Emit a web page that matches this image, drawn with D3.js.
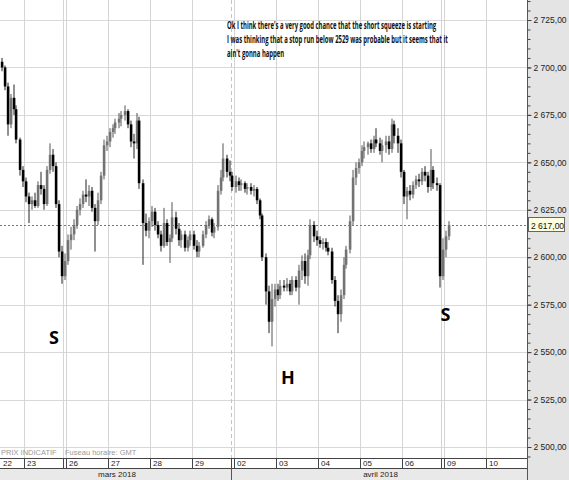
<!DOCTYPE html>
<html>
<head>
<meta charset="utf-8">
<script src="https://cdn.jsdelivr.net/npm/d3@7"></script>
<style>
	body { margin: 0; background: #fff; }
	svg { display: block; font-family: "Liberation Sans", Arial, sans-serif; }
</style>
</head>
<body>
<svg id="chart" width="569" height="480"></svg>
<script>
// trading days shown on the time axis (bars are 14 per day)
const days = ["22", "23", "26", "27", "28", "29", "02", "03", "04", "05", "06", "09", "10"];
const months = [
	{ label: "mars 2018", from: 0, to: 6 },
	{ label: "avril 2018", from: 6, to: 13 }
];
// day index after which a weekend / holiday gap sits
const gapsAfter = [1, 5, 10];
const barsPerDay = 14;
const firstSlot = 6;

// [open, high, low, close], one per bar, starting at firstSlot
const candles = [
	[2703, 2705, 2698, 2700], [2700, 2701, 2688, 2690], [2690, 2692, 2664, 2670], [2670, 2686, 2668, 2684],
	[2684, 2691, 2675, 2678], [2678, 2680, 2660, 2662], [2662, 2663, 2643, 2646], [2646, 2648, 2637, 2640],
	// 23
	[2640, 2642, 2629, 2632], [2632, 2634, 2618, 2628], [2628, 2632, 2625, 2630], [2630, 2634, 2626, 2627],
	[2627, 2640, 2626, 2638], [2638, 2645, 2633, 2636], [2636, 2638, 2625, 2628], [2628, 2648, 2627, 2646],
	[2646, 2660, 2644, 2654], [2654, 2657, 2645, 2648], [2648, 2650, 2626, 2628], [2628, 2630, 2600, 2603],
	[2603, 2606, 2586, 2590], [2590, 2602, 2588, 2598],
	// 26
	[2598, 2612, 2596, 2609], [2609, 2616, 2604, 2612], [2612, 2620, 2609, 2617], [2617, 2627, 2615, 2625],
	[2625, 2631, 2622, 2628], [2628, 2635, 2626, 2633], [2633, 2641, 2629, 2632], [2632, 2638, 2627, 2635],
	[2635, 2637, 2624, 2626], [2626, 2628, 2603, 2619], [2619, 2634, 2617, 2630], [2630, 2645, 2628, 2643],
	[2643, 2662, 2641, 2659], [2659, 2664, 2656, 2661],
	// 27
	[2661, 2668, 2658, 2666], [2666, 2670, 2663, 2668], [2668, 2673, 2665, 2671], [2671, 2676, 2668, 2673],
	[2673, 2677, 2669, 2675], [2675, 2680, 2672, 2677], [2677, 2678, 2668, 2670], [2670, 2672, 2658, 2661],
	[2661, 2665, 2652, 2660], [2660, 2676, 2657, 2672], [2672, 2674, 2636, 2639], [2639, 2641, 2596, 2618],
	[2618, 2623, 2611, 2614], [2614, 2621, 2610, 2619],
	// 28
	[2619, 2627, 2616, 2624], [2624, 2626, 2614, 2617], [2617, 2619, 2610, 2612], [2612, 2614, 2603, 2606],
	[2606, 2626, 2605, 2618], [2618, 2620, 2606, 2608], [2608, 2612, 2597, 2610], [2610, 2629, 2608, 2621],
	[2621, 2624, 2612, 2615], [2615, 2618, 2606, 2609], [2609, 2614, 2605, 2612], [2612, 2614, 2603, 2605],
	[2605, 2611, 2603, 2609], [2609, 2614, 2606, 2612],
	// 29
	[2612, 2614, 2604, 2606], [2606, 2609, 2600, 2603], [2603, 2608, 2600, 2606], [2606, 2614, 2605, 2612],
	[2612, 2619, 2610, 2617], [2617, 2622, 2615, 2620], [2620, 2621, 2611, 2613], [2613, 2618, 2610, 2616],
	[2616, 2638, 2614, 2635], [2635, 2646, 2633, 2642], [2642, 2660, 2640, 2652], [2652, 2654, 2642, 2645],
	[2645, 2651, 2640, 2643], [2643, 2645, 2635, 2637],
	// 02
	[2637, 2643, 2634, 2640], [2640, 2642, 2635, 2638], [2638, 2641, 2635, 2639], [2639, 2640, 2634, 2636],
	[2636, 2639, 2633, 2637], [2637, 2639, 2633, 2635], [2635, 2638, 2632, 2636], [2636, 2637, 2628, 2630],
	[2630, 2631, 2620, 2622], [2622, 2623, 2598, 2600], [2600, 2602, 2575, 2582], [2582, 2585, 2560, 2566],
	[2566, 2586, 2553, 2578], [2578, 2586, 2574, 2583],
	// 03
	[2583, 2586, 2577, 2580], [2580, 2588, 2578, 2585], [2585, 2588, 2582, 2584], [2584, 2589, 2582, 2586],
	[2586, 2588, 2580, 2582], [2582, 2590, 2580, 2588], [2588, 2590, 2582, 2584], [2584, 2596, 2575, 2593],
	[2593, 2601, 2588, 2598], [2598, 2602, 2586, 2590], [2590, 2604, 2585, 2601], [2601, 2620, 2599, 2617],
	[2617, 2619, 2608, 2611], [2611, 2614, 2606, 2609],
	// 04
	[2609, 2611, 2605, 2607], [2607, 2610, 2604, 2608], [2608, 2610, 2603, 2605], [2605, 2608, 2601, 2603],
	[2603, 2605, 2586, 2588], [2588, 2590, 2574, 2577], [2577, 2580, 2560, 2570], [2570, 2583, 2566, 2580],
	[2580, 2600, 2578, 2596], [2596, 2606, 2594, 2604], [2604, 2622, 2602, 2619], [2619, 2646, 2617, 2642],
	[2642, 2650, 2638, 2647], [2647, 2652, 2644, 2650],
	// 05
	[2650, 2659, 2648, 2656], [2656, 2661, 2652, 2658], [2658, 2661, 2654, 2660], [2660, 2662, 2655, 2657],
	[2657, 2664, 2655, 2662], [2662, 2668, 2658, 2660], [2660, 2663, 2654, 2656], [2656, 2662, 2650, 2659],
	[2659, 2664, 2655, 2661], [2661, 2664, 2654, 2657], [2657, 2673, 2655, 2670], [2670, 2672, 2660, 2664],
	[2664, 2668, 2655, 2660], [2660, 2662, 2642, 2645],
	// 06
	[2645, 2646, 2628, 2632], [2632, 2637, 2620, 2635], [2635, 2638, 2630, 2633], [2633, 2640, 2631, 2638],
	[2638, 2643, 2636, 2641], [2641, 2644, 2637, 2640], [2640, 2647, 2638, 2645], [2645, 2648, 2640, 2643],
	[2643, 2645, 2634, 2637], [2637, 2657, 2635, 2646], [2646, 2648, 2636, 2639], [2639, 2642, 2635, 2638],
	[2638, 2639, 2584, 2590], [2590, 2610, 2588, 2604],
	// 09
	[2604, 2614, 2600, 2611], [2611, 2619, 2609, 2617]
];

const lastPrice = 2617;
const priceTicks = d3.range(2500, 2726, 25);
const minorTicks = d3.range(2495, 2746, 5);

const noteLines = [
	"Ok I think there's a very good chance that the short squeeze is starting",
	"I was thinking that a stop run below 2529 was probable but it seems that it",
	"ain't gonna happen"
];
// head & shoulders marks: [label, slot, price]
const patternMarks = [["S", 24, 2558], ["H", 102, 2537], ["S", 154.5, 2570]];

const W = 569, H = 480;
const plotRight = 527, plotBottom = 458, dayRowBottom = 468;

const svg = d3.select("#chart");

const x = d3.scaleLinear()
	.domain([0, days.length * barsPerDay])
	.range([-18, 528]);
const y = d3.scaleLinear()
	.domain([2500, 2725])
	.range([447, 20]);

const fr = d3.formatLocale({ decimal: ",", thousands: " ", grouping: [3], currency: ["", ""] });
const fmt = fr.format(",.2f");

svg.append("defs").append("clipPath").attr("id", "plot-clip")
	.append("rect").attr("x", 0).attr("y", 0).attr("width", plotRight).attr("height", plotBottom);

const plot = svg.append("g").attr("clip-path", "url(#plot-clip)");

// horizontal grid
plot.append("g").selectAll("line").data(priceTicks).join("line")
	.attr("x1", 0).attr("x2", plotRight)
	.attr("y1", d => Math.round(y(d)) + 0.5).attr("y2", d => Math.round(y(d)) + 0.5)
	.attr("stroke", "#d8d8d8");

// vertical grid at day boundaries
const boundaries = d3.range(1, days.length);
boundaries.forEach(i => {
	const bx = Math.round(x(i * barsPerDay)) + 0.5;
	const isGap = gapsAfter.includes(i - 1);
	const isMonth = months.some(m => m.from === i);
	if (isGap) {
		plot.append("line")
			.attr("x1", bx - 3).attr("x2", bx - 3).attr("y1", 0).attr("y2", plotBottom)
			.attr("stroke", isMonth ? "#c4c4c4" : "#d4d4d4")
			.attr("stroke-dasharray", isMonth ? "4,3" : null);
	}
	plot.append("line")
		.attr("x1", bx).attr("x2", bx).attr("y1", 0).attr("y2", plotBottom)
		.attr("stroke", "#d4d4d4");
});

// last price line
plot.append("line")
	.attr("x1", 0).attr("x2", plotRight)
	.attr("y1", Math.round(y(lastPrice)) + 0.5).attr("y2", Math.round(y(lastPrice)) + 0.5)
	.attr("stroke", "#e8473f").attr("stroke-dasharray", "2,2");

// candles
const bars = plot.append("g").selectAll("g").data(candles).join("g")
	.attr("transform", (d, i) => `translate(${Math.round(x(firstSlot + i + 0.5))},0)`);

bars.append("line")
	.attr("x1", 0).attr("x2", 0)
	.attr("y1", d => y(d[1])).attr("y2", d => y(d[2]))
	.attr("stroke", d => d[3] >= d[0] ? "#555" : "#222")
	.attr("stroke-width", 1);

bars.append("rect")
	.attr("x", -1.2)
	.attr("width", 2.6)
	.attr("y", d => y(Math.max(d[0], d[3])))
	.attr("height", d => Math.max(1, Math.abs(y(d[0]) - y(d[3]))))
	.attr("fill", d => d[3] >= d[0] ? "#737373" : "#000");

// footer of the plot
svg.append("text")
	.attr("x", 1).attr("y", 455)
	.attr("font-size", 7.5).attr("fill", "#999")
	.attr("xml:space", "preserve")
	.text("PRIX INDICATIF    Fuseau horaire: GMT");

// annotation: condensed horizontally so the second line spans ~221px like the screenshot
const note = svg.append("text")
	.attr("font-family", "'Open Sans', 'Noto Sans', sans-serif")
	.attr("font-weight", 700)
	.attr("font-size", 11)
	.attr("fill", "#111");
note.selectAll("tspan").data(noteLines).join("tspan")
	.attr("x", 0)
	.attr("y", (d, i) => 29 + i * 14)
	.text(d => d);
const widest = note.selectAll("tspan").nodes()[1].getComputedTextLength();
note.attr("transform", `translate(227,0) scale(${221 / widest},1)`);

svg.append("g").selectAll("text").data(patternMarks).join("text")
	.attr("x", d => x(d[1]))
	.attr("y", d => y(d[2]) + 7)
	.attr("text-anchor", "middle")
	.attr("font-family", "'Open Sans', 'Noto Sans', sans-serif")
	.attr("font-weight", 700)
	.attr("font-size", 18)
	.attr("fill", "#000")
	.text(d => d[0]);

// right price panel
svg.append("rect")
	.attr("x", plotRight).attr("y", 0).attr("width", W - plotRight).attr("height", H)
	.attr("fill", "#e4e4e4");

const axisG = svg.append("g").attr("transform", `translate(${plotRight + 0.5},0)`);
axisG.call(d3.axisRight(y).tickValues(minorTicks.filter(d => y(d) > 0 && y(d) < H)).tickSize(3).tickFormat(""));
axisG.call(g => g.select(".domain").remove());
const major = svg.append("g").attr("transform", `translate(${plotRight + 0.5},0)`);
major.call(d3.axisRight(y).tickValues(priceTicks).tickSize(4).tickPadding(2).tickFormat(fmt));
major.select(".domain").remove();
major.selectAll("text").attr("font-size", 8.5).attr("fill", "#222")
	.attr("font-family", "'Liberation Sans', Arial, sans-serif");
svg.selectAll(".tick line").attr("stroke", "#444");

svg.append("line")
	.attr("x1", plotRight + 0.5).attr("x2", plotRight + 0.5).attr("y1", 0).attr("y2", H)
	.attr("stroke", "#555");

// last price tag
const tagY = Math.round(y(lastPrice));
svg.append("rect")
	.attr("x", plotRight + 1.5).attr("y", tagY - 7.5).attr("width", 36).attr("height", 14)
	.attr("fill", "#fdfde0").attr("stroke", "#666");
svg.append("text")
	.attr("x", plotRight + 4).attr("y", tagY + 3.5)
	.attr("font-size", 8.5).attr("fill", "#111")
	.text(fmt(lastPrice));

// time axis: day row and month row
const dayRow = svg.append("g");
dayRow.append("rect")
	.attr("x", 0).attr("y", plotBottom).attr("width", plotRight).attr("height", dayRowBottom - plotBottom)
	.attr("fill", "#fff");
dayRow.append("rect")
	.attr("x", 0).attr("y", dayRowBottom).attr("width", plotRight).attr("height", H - dayRowBottom)
	.attr("fill", "#e9e9e9");
dayRow.append("line")
	.attr("x1", 0).attr("x2", plotRight).attr("y1", plotBottom + 0.5).attr("y2", plotBottom + 0.5)
	.attr("stroke", "#444");
dayRow.append("line")
	.attr("x1", 0).attr("x2", plotRight).attr("y1", dayRowBottom + 0.5).attr("y2", dayRowBottom + 0.5)
	.attr("stroke", "#444");

boundaries.forEach(i => {
	const bx = Math.round(x(i * barsPerDay)) + 0.5;
	dayRow.append("line")
		.attr("x1", bx).attr("x2", bx).attr("y1", plotBottom).attr("y2", dayRowBottom)
		.attr("stroke", "#444");
	if (gapsAfter.includes(i - 1)) {
		dayRow.append("line")
			.attr("x1", bx - 3).attr("x2", bx - 3).attr("y1", plotBottom).attr("y2", dayRowBottom)
			.attr("stroke", "#444");
	}
});

dayRow.selectAll("text.day").data(days).join("text")
	.attr("class", "day")
	.attr("x", (d, i) => Math.max(0, x(i * barsPerDay)) + 3)
	.attr("y", dayRowBottom - 2)
	.attr("font-size", 8).attr("fill", "#222")
	.text(d => d);

months.forEach(m => {
	const x0 = Math.max(0, x(m.from * barsPerDay));
	const x1 = Math.min(plotRight, x(m.to * barsPerDay));
	dayRow.append("text")
		.attr("x", (x0 + x1) / 2).attr("y", H - 3)
		.attr("text-anchor", "middle")
		.attr("font-size", 8).attr("fill", "#222")
		.text(m.label);
	if (m.from > 0) {
		const bx = Math.round(x(m.from * barsPerDay)) - 2.5;
		dayRow.append("line")
			.attr("x1", bx).attr("x2", bx).attr("y1", dayRowBottom).attr("y2", H)
			.attr("stroke", "#555");
	}
});
</script>
</body>
</html>
